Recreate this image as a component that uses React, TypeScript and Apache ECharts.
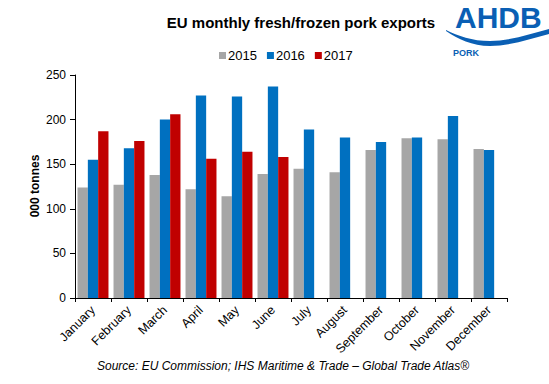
import React, { useEffect, useRef } from "react";
import * as echarts from "echarts";

const months = ["January","February","March","April","May","June","July","August","September","October","November","December"];
const s2015 = [124, 127, 138, 122, 114, 139, 145, 141, 166, 179, 178, 167];
const s2016 = [155, 168, 200, 227, 226, 237, 189, 180, 175, 180, 204, 166];
const s2017 = [187, 176, 206, 156, 164, 158];
const yTicks = [0, 50, 100, 150, 200, 250];

const FONT = "'Liberation Sans', Arial, sans-serif";

echarts.graphic.registerShape(
  "ahdbWave",
  echarts.graphic.extendPath(
    "M 0 0 C 12 6 26 11 44 11 C 64 11 84 4 103 -1 L 103 4 C 84 9 64 16 44 16 C 26 16 12 9 0 1 Z",
    {}
  )
);

export default function App() {
  const ref = useRef<HTMLDivElement>(null);
  useEffect(() => {
    const chart = echarts.init(ref.current!, null, { renderer: "svg" });
    chart.setOption({
      animation: false,
      backgroundColor: "#ffffff",
      title: {
        text: "EU monthly fresh/frozen pork exports",
        left: 296,
        top: 10,
        textAlign: "center",
        textStyle: { fontFamily: FONT, fontSize: 15, fontWeight: "bold", color: "#000" },
      },
      legend: {
        left: 214,
        top: 44,
        itemWidth: 7,
        itemHeight: 7,
        itemGap: 10,
        icon: "rect",
        textStyle: { fontFamily: FONT, fontSize: 13, color: "#000", padding: [0, 0, 0, -3] },
        data: ["2015", "2016", "2017"],
      },
      grid: { left: 75, right: 42, top: 75, bottom: 86 },
      xAxis: {
        type: "category",
        data: months,
        axisLine: { lineStyle: { color: "#000", width: 1 } },
        axisTick: { show: true, length: 4, lineStyle: { color: "#000" } },
        axisLabel: { rotate: 45, fontFamily: FONT, fontSize: 12.5, color: "#000", margin: 10, interval: 0 },
      },
      yAxis: {
        type: "value",
        min: 0,
        max: 250,
        interval: 50,
        splitLine: { show: false },
        axisLine: { show: true, lineStyle: { color: "#000", width: 1 } },
        axisTick: { show: true, length: 5, lineStyle: { color: "#000" } },
        axisLabel: {
          fontFamily: FONT, fontSize: 12, color: "#000", margin: 9,
          formatter: (v: number) => (yTicks.includes(v) ? String(v) : ""),
        },
      },
      series: [
        { name: "2015", type: "bar", data: s2015, barGap: "0%", barCategoryGap: "14%", itemStyle: { color: "#a6a6a6" } },
        { name: "2016", type: "bar", data: s2016, barGap: "0%", barCategoryGap: "14%", itemStyle: { color: "#0070c0" } },
        { name: "2017", type: "bar", data: s2017, barGap: "0%", barCategoryGap: "14%", itemStyle: { color: "#c00000" } },
      ],
      graphic: [
        {
          type: "text",
          x: 35,
          y: 186,
          rotation: Math.PI / 2,
          style: {
            text: "000 tonnes",
            fontFamily: FONT,
            fontSize: 12,
            fontWeight: "bold",
            fill: "#000",
            align: "center",
            verticalAlign: "middle",
          },
        },
        {
          type: "text",
          x: 97,
          y: 366,
          style: {
            text: "Source: EU Commission; IHS Maritime & Trade \u2013 Global Trade Atlas\u00ae",
            fontFamily: FONT,
            fontSize: 12,
            fontStyle: "italic",
            fill: "#000",
            verticalAlign: "middle",
          },
        },
        {
          type: "text",
          x: 455,
          y: 2,
          style: {
            text: "AHDB",
            fontFamily: FONT,
            fontSize: 30,
            fontWeight: "bold",
            fill: "#0a5fb4",
          },
        },
        {
          type: "ahdbWave",
          x: 446,
          y: 30,
          style: { fill: "#0a5fb4" },
        },
        {
          type: "text",
          x: 453,
          y: 48,
          style: {
            text: "PORK",
            fontFamily: FONT,
            fontSize: 9,
            fontWeight: "bold",
            fill: "#0a5fb4",
          },
        },
      ],
    });
    return () => chart.dispose();
  }, []);
  return <div ref={ref} style={{ position: "fixed", left: 0, top: 0, width: 549, height: 384 }} />;
}
